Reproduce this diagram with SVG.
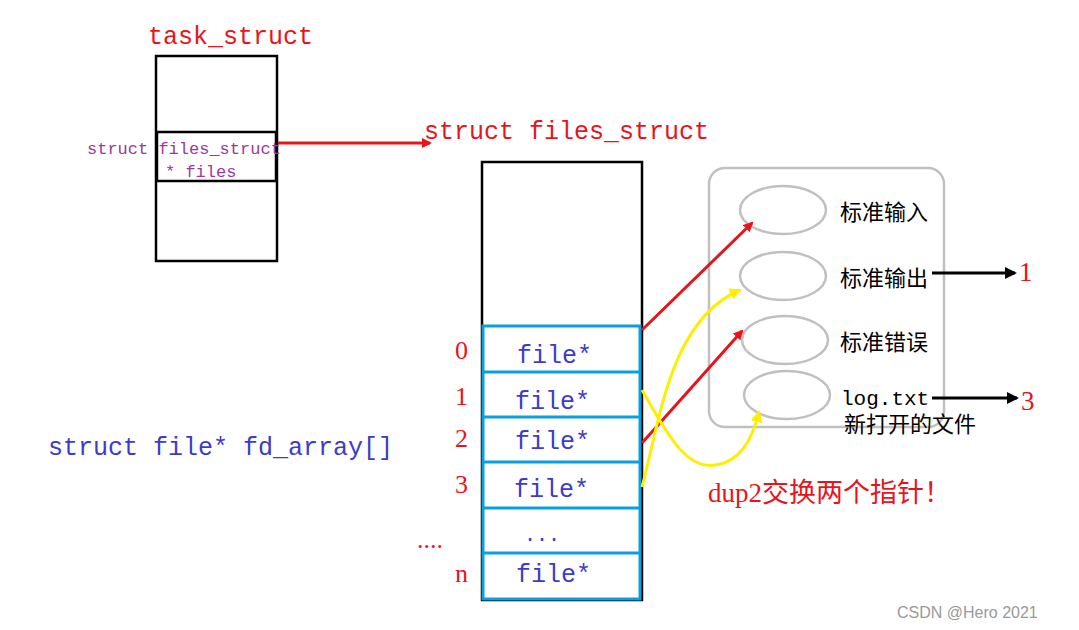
<svg xmlns="http://www.w3.org/2000/svg" width="1079" height="630" viewBox="0 0 1079 630">
<style>
.cn{font-family:"Liberation Serif","Noto Sans CJK SC",serif}
.mono{font-family:"Liberation Mono","Noto Sans CJK SC",monospace}
.red{fill:#e8141c}
.blue{fill:#3c3cc8}
.purple{fill:#9a3aa0}
.cell{fill:none;stroke:#0aa0e0;stroke-width:3}
.el{fill:#fff;stroke:#c0c0c0;stroke-width:2.5}
</style>
<defs>
<marker id="ar" markerWidth="10" markerHeight="10" refX="8" refY="5" orient="auto" markerUnits="userSpaceOnUse"><path d="M0,0 L10,5 L0,10z" fill="#e8141c"/></marker>
<marker id="ay" markerWidth="12" markerHeight="12" refX="10" refY="6" orient="auto" markerUnits="userSpaceOnUse"><path d="M0,0 L12,6 L0,12z" fill="#ffee00"/></marker>
<marker id="ab" markerWidth="12" markerHeight="12" refX="10" refY="6" orient="auto" markerUnits="userSpaceOnUse"><path d="M0,0 L12,6 L0,12z" fill="#000"/></marker>
</defs>
<rect width="1079" height="630" fill="#fff"/>
<g id="task_struct">
<text x="148" y="44" class="mono red" font-size="25">task_struct</text>
<rect x="156" y="56" width="121" height="205" fill="none" stroke="#000" stroke-width="2.5"/>
<rect x="157" y="132" width="119" height="49" fill="none" stroke="#000" stroke-width="2.5"/>
<text x="87" y="154" class="mono purple" font-size="17">struct files_struct</text>
<text x="165" y="177" class="mono purple" font-size="17">* files</text>
</g>
<g id="files_struct">
<text x="424" y="139" class="mono red" font-size="25">struct files_struct</text>
<rect x="482" y="162" width="160" height="438" fill="none" stroke="#000" stroke-width="2.5"/>
</g>
<g id="fd_array">
<text x="48" y="455" class="mono blue" font-size="25">struct file* fd_array[]</text>
<rect x="483" y="326" width="157" height="273" class="cell"/>
<line x1="483" y1="372" x2="640" y2="372" class="cell"/>
<line x1="483" y1="417" x2="640" y2="417" class="cell"/>
<line x1="483" y1="462" x2="640" y2="462" class="cell"/>
<line x1="483" y1="508" x2="640" y2="508" class="cell"/>
<line x1="483" y1="553" x2="640" y2="553" class="cell"/>
<g class="mono blue" font-size="25">
<text x="517" y="363">file*</text>
<text x="515" y="409">file*</text>
<text x="515" y="449">file*</text>
<text x="514" y="497">file*</text>
<text x="524" y="541" font-size="20">...</text>
<text x="516" y="582">file*</text>
</g>
<g class="cn red" font-size="26">
<text x="455" y="359">0</text>
<text x="455" y="405">1</text>
<text x="455" y="447">2</text>
<text x="455" y="493">3</text>
<text x="417" y="548">....</text>
<text x="455" y="582">n</text>
</g>
</g>
<g id="files_box">
<rect x="709" y="168" width="235" height="259" rx="16" fill="none" stroke="#c0c0c0" stroke-width="2.5"/>
<ellipse cx="783" cy="210" rx="43" ry="24" class="el"/>
<ellipse cx="783" cy="276" rx="43" ry="24" class="el"/>
<ellipse cx="785" cy="340" rx="43" ry="24" class="el"/>
<ellipse cx="787" cy="395" rx="43" ry="24" class="el"/>
<g class="cn" font-size="22">
<text x="840" y="220">标准输入</text>
<text x="840" y="286">标准输出</text>
<text x="840" y="350">标准错误</text>
<text x="841" y="405" class="mono" font-size="21">log.txt</text>
<text x="844" y="432">新打开的文件</text>
</g>
<text x="1019" y="281" class="cn red" font-size="27">1</text>
<text x="1021" y="410" class="cn red" font-size="27">3</text>
<text x="708" y="502" class="cn red" font-size="27">dup2交换两个指针！</text>
</g>
<g id="connectors" fill="none">
<line x1="278" y1="143" x2="430" y2="143" stroke="#e8141c" stroke-width="3" marker-end="url(#ar)"/>
<line x1="642" y1="330" x2="752" y2="223" stroke="#e8141c" stroke-width="3" marker-end="url(#ar)"/>
<line x1="642" y1="443" x2="742" y2="331" stroke="#e8141c" stroke-width="3" marker-end="url(#ar)"/>
<path d="M642,390 C665,430 685,470 715,465 C740,462 752,440 759,412" stroke="#ffee00" stroke-width="3" marker-end="url(#ay)"/>
<path d="M642,487 C660,420 670,320 740,290" stroke="#ffee00" stroke-width="3" marker-end="url(#ay)"/>
<line x1="932" y1="273" x2="1015" y2="273" stroke="#000" stroke-width="3" marker-end="url(#ab)"/>
<line x1="932" y1="398" x2="1017" y2="398" stroke="#000" stroke-width="3" marker-end="url(#ab)"/>
</g>
<text x="897" y="618" font-family="Liberation Sans,sans-serif" font-size="16" fill="#999">CSDN @Hero 2021</text>
</svg>
